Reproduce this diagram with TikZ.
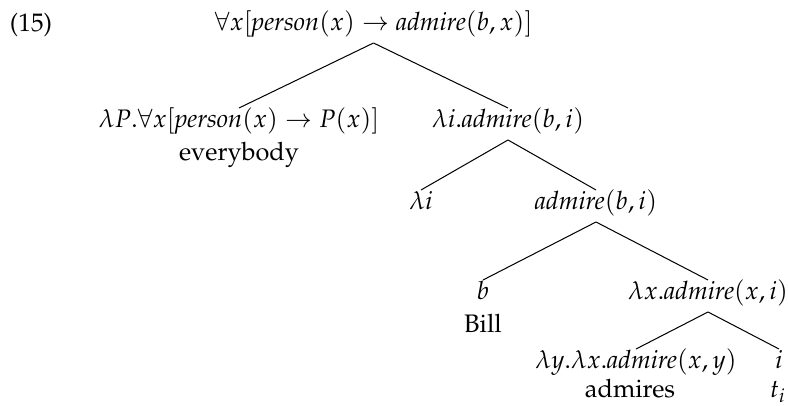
\documentclass[tikz,border=0pt]{standalone}
\usepackage[T1]{fontenc}
\usepackage{mathpazo}
\usetikzlibrary{calc}
\begin{document}
\begin{tikzpicture}[x=0.395pt,y=-0.395pt,
  lbl/.style={anchor=base,inner sep=0pt,outer sep=0pt},
  br/.style={line width=0.4pt}]
\useasboundingbox (0,0) rectangle (788,406);
\node[lbl,anchor=base west] (num) at (10,32) {(15)};
\node[lbl] (root) at (373.5,31) {$\forall x[\mathit{person}(x)\rightarrow \mathit{admire}(b,x)]$};
\node[lbl] (lp) at (239,128) {$\lambda P.\forall x[\mathit{person}(x)\rightarrow P(x)]$};
\node[lbl] (evb) at (239,161) {everybody};
\node[lbl] (li) at (508,128) {$\lambda i.\mathit{admire}(b,i)$};
\node[lbl] (lam) at (421,210) {$\lambda i$};
\node[lbl] (adm) at (596,210) {$\mathit{admire}(b,i)$};
\node[lbl] (b) at (483,300) {$b$};
\node[lbl] (bill) at (483,333) {Bill};
\node[lbl] (lx) at (708,300) {$\lambda x.\mathit{admire}(x,i)$};
\node[lbl] (ly) at (636,369) {$\lambda y.\lambda x.\mathit{admire}(x,y)$};
\node[lbl] (admires) at (630,398) {admires};
\node[lbl] (i) at (779,369) {$i$};
\node[lbl] (ti) at (778,398) {$t_i$};
\foreach \p/\c in {root/lp, root/li, li/lam, li/adm, adm/b, adm/lx, lx/ly, lx/i}
  \draw[br] ($(\p.base)+(0,12)$) -- ($(\c.base)+(0,-20)$);
\end{tikzpicture}
\end{document}
